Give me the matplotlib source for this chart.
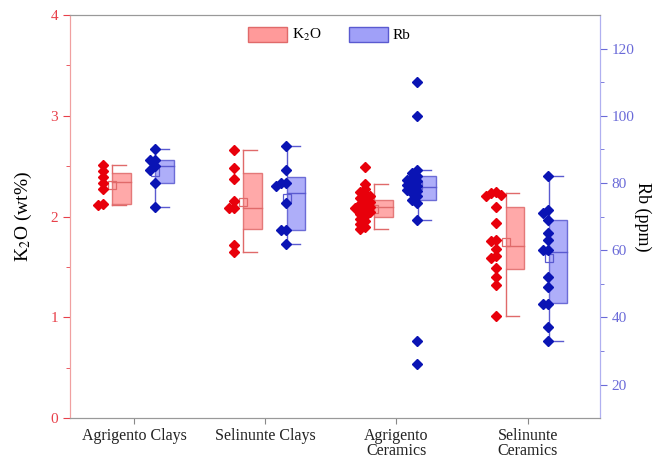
import numpy as np
import matplotlib
matplotlib.use("Agg")
import matplotlib.pyplot as plt
from matplotlib.patches import Rectangle, Patch

plt.rcParams['font.family'] = ['Liberation Serif', 'DejaVu Serif']
plt.rcParams['mathtext.fontset'] = 'stix'

# categories
groups = ["Agrigento Clays", "Selinunte Clays", "Agrigento\nCeramics", "Selinunte\nCeramics"]

# K2O (wt%) points per group
k2o_ac = [2.51, 2.45, 2.39, 2.33, 2.27, 2.13, 2.12]
k2o_sc = [2.66, 2.48, 2.37, 2.16, 2.09, 2.09, 1.72, 1.65]
k2o_acer = [2.49, 2.32, 2.27, 2.24, 2.22, 2.20, 2.18, 2.17, 2.15, 2.13, 2.12, 2.10, 2.09,
            2.08, 2.06, 2.05, 2.03, 2.01, 1.98, 1.96, 1.93, 1.90, 1.88]
k2o_scer = [2.24, 2.23, 2.21, 2.20, 2.10, 1.94, 1.77, 1.76, 1.68, 1.61, 1.59, 1.49, 1.40, 1.32, 1.01]

# Rb (ppm) points per group
rb_ac = [90, 87, 87, 85, 84, 80, 73]
rb_sc = [91, 84, 80, 80, 79, 74, 66, 66, 62]
rb_acer = [110, 100, 84, 83, 82, 81.5, 81, 80.5, 80, 79.5, 79, 78.5, 78, 77.5, 77, 76, 75, 74, 69, 33, 26]
rb_scer = [82, 72, 71, 69, 65, 63, 60, 60, 52, 49, 44, 44, 37, 33]

# box statistics
k2o_q1 = [2.13, 1.88, 2.00, 1.48]
k2o_med = [2.34, 2.09, 2.10, 1.71]
k2o_q3 = [2.43, 2.43, 2.17, 2.10]
k2o_mean = [2.31, 2.15, 2.08, 1.75]
k2o_lo = [2.12, 1.65, 1.88, 1.01]
k2o_hi = [2.51, 2.66, 2.32, 2.23]

rb_q1 = [80.0, 66.0, 75.1, 44.2]
rb_med = [85.0, 76.9, 78.9, 59.5]
rb_q3 = [87.0, 81.9, 82.1, 69.0]
rb_mean = [83.3, 75.4, 79.4, 57.6]
rb_lo = [73, 62, 69, 33]
rb_hi = [90, 91, 84, 82]

k2o_pts = [k2o_ac, k2o_sc, k2o_acer, k2o_scer]
rb_pts = [rb_ac, rb_sc, rb_acer, rb_scer]

red_pt = '#e8000b'
red_face = '#ff9a9a'
red_edge = '#e06a6a'
blue_pt = '#0a14b4'
blue_face = '#a0a0f8'
blue_edge = '#5a5ad0'

fig = plt.figure(figsize=(6.54, 4.58), dpi=100)
ax = fig.add_axes([0.107, 0.087, 0.81, 0.88])
ax2 = ax.twinx()

ax.set_xlim(0.51, 4.55)
ax.set_ylim(0, 4)
ax2.set_ylim(10, 130)

pos = np.arange(1, len(groups) + 1)
bw = 0.14


def swarm(a, x0, vals, offs, step=5.0, dist=4.5):
    # simple non random spreading of overlapping points (pixel space)
    pix = a.transData.transform(np.column_stack([np.full(len(vals), x0), vals]))
    placed = []
    for px, py in pix:
        for o in offs:
            cx = px + o * step
            if all((cx - qx) ** 2 + (py - qy) ** 2 >= dist ** 2 for qx, qy in placed):
                break
        placed.append((cx, py))
    return a.transData.inverted().transform(np.array(placed))


def draw_box(a, xl, q1, med, q3, lo, hi, mn, face, edge):
    a.add_patch(Rectangle((xl, q1), bw, q3 - q1, facecolor=face, edgecolor=edge,
                          lw=1.0, alpha=0.85, zorder=2))
    a.plot([xl, xl + bw], [med, med], color=edge, lw=1.0, zorder=3)
    a.plot([xl, xl], [q3, hi], color=edge, lw=1.0, zorder=2)
    a.plot([xl, xl], [lo, q1], color=edge, lw=1.0, zorder=2)
    a.plot([xl, xl + 0.105], [hi, hi], color=edge, lw=1.0, zorder=2)
    a.plot([xl, xl + 0.105], [lo, lo], color=edge, lw=1.0, zorder=2)
    a.plot([xl], [mn], marker='s', ms=6, mfc='none', mec=edge, mew=0.9, zorder=3)


for i, c in enumerate(pos):
    xr = c - 0.168
    draw_box(ax, xr, k2o_q1[i], k2o_med[i], k2o_q3[i], k2o_lo[i], k2o_hi[i], k2o_mean[i],
             red_face, red_edge)
    xy = swarm(ax, c - 0.24, k2o_pts[i], [0, -1, 1, -2, 2, -3, 3])
    ax.plot(xy[:, 0], xy[:, 1], 'D', color=red_pt, ms=5.5, mec=red_pt, ls='none', zorder=4)

    xb = c + 0.162
    draw_box(ax2, xb, rb_q1[i], rb_med[i], rb_q3[i], rb_lo[i], rb_hi[i], rb_mean[i],
             blue_face, blue_edge)
    xy = swarm(ax2, c + 0.158, rb_pts[i], [0, -1, -2, 1, -3, -4])
    ax2.plot(xy[:, 0], xy[:, 1], 'D', color=blue_pt, ms=5.5, mec=blue_pt, ls='none', zorder=4)

# axes styling
ax.set_xticks(pos)
ax.set_xticklabels(groups, fontsize=11.5, linespacing=0.9, color='#222222')
ax.tick_params(axis='x', direction='out', length=4, color='#888888', pad=3)

ax.set_yticks([0, 1, 2, 3, 4])
ax.set_yticks([0.5, 1.5, 2.5, 3.5], minor=True)
ax.tick_params(axis='y', which='both', direction='out', colors='#e8404a', labelsize=11)
ax.tick_params(axis='y', which='major', length=5)
ax.tick_params(axis='y', which='minor', length=3)
ax.set_ylabel('K$_2$O (wt%)', fontsize=14, labelpad=12)

ax2.set_yticks([20, 40, 60, 80, 100, 120])
ax2.set_yticks([30, 50, 70, 90, 110], minor=True)
ax2.tick_params(axis='y', which='both', direction='out', colors='#6a6ad8', labelsize=11)
ax2.tick_params(axis='y', which='major', length=5)
ax2.tick_params(axis='y', which='minor', length=3)
ax2.set_ylabel('Rb (ppm)', fontsize=13, rotation=270, labelpad=12)

for a in (ax, ax2):
    a.spines['top'].set_color('#999999')
    a.spines['bottom'].set_color('#999999')
    a.spines['left'].set_color('#f0a0a0')
    a.spines['right'].set_color('#b0b0f0')

handles = [Patch(facecolor=red_face, edgecolor=red_edge, label='K$_2$O'),
           Patch(facecolor=blue_face, edgecolor=blue_edge, label='Rb')]
ax2.legend(handles=handles, loc='upper center', bbox_to_anchor=(0.49, 1.005), ncol=2,
           frameon=False, fontsize=11, handlelength=2.55, handleheight=1.1,
           columnspacing=1.8, handletextpad=0.3)

fig.savefig('out.png', dpi=100)
